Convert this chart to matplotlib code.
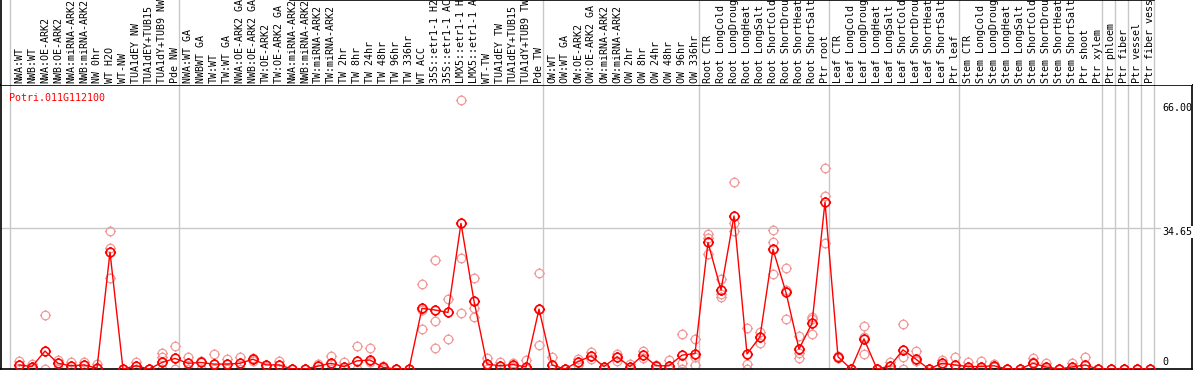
import matplotlib
matplotlib.use("Agg")
import matplotlib.pyplot as plt
import numpy as np
from matplotlib.path import Path

# ---- data ---------------------------------------------------------------
gene = "Potri.011G112100"

labels = [
    "NWA:WT", "NWB:WT", "NWA:OE-ARK2", "NWB:OE-ARK2", "NWA:miRNA-ARK2",
    "NWB:miRNA-ARK2", "NW 0hr", "WT H2O", "WT-NW", "TUA1dEY NW",
    "TUA1dEY+TUB15", "TUA1dY+TUB9 NW", "Pde NW",
    "NWA:WT GA", "NWBWT GA", "TW:WT", "TW:WT GA", "NWA:OE-ARK2 GA",
    "NWB:OE-ARK2 GA", "TW:OE-ARK2", "TW:OE-ARK2 GA", "NWA:miRNA-ARK2",
    "NWB:miRNA-ARK2", "TW:miRNA-ARK2", "TW:miRNA-ARK2", "TW 2hr", "TW 8hr",
    "TW 24hr", "TW 48hr", "TW 96hr", "TW 336hr", "WT ACC", "35S::etr1-1 H2",
    "35S::etr1-1 AC", "LMX5::etr1-1 H", "LMX5::etr1-1 A", "WT-TW",
    "TUA1dEY TW", "TUA1dEY+TUB15", "TUA1dY+TUB9 TW", "Pde TW",
    "OW:WT", "OW:WT GA", "OW:OE-ARK2", "OW:OE-ARK2 GA", "OW:miRNA-ARK2",
    "OW:miRNA-ARK2", "OW 2hr", "OW 8hr", "OW 24hr", "OW 48hr", "OW 96hr",
    "OW 336hr",
    "Root CTR", "Root LongCold", "Root LongDroug", "Root LongHeat",
    "Root LongSalt", "Root ShortCold", "Root ShortDrou", "Root ShortHeat",
    "Root ShortSalt", "Ptr root",
    "Leaf CTR", "Leaf LongCold", "Leaf LongDroug", "Leaf LongHeat",
    "Leaf LongSalt", "Leaf ShortCold", "Leaf ShortDrou", "Leaf ShortHeat",
    "Leaf ShortSalt", "Ptr leaf",
    "Stem CTR", "Stem LongCold", "Stem LongDroug", "Stem LongHeat",
    "Stem LongSalt", "Stem ShortCold", "Stem ShortDrou", "Stem ShortHeat",
    "Stem ShortSalt", "Ptr shoot", "Ptr xylem",
    "Ptr phloem", "Ptr fiber", "Ptr vessel", "Ptr fiber vess",
]

means = [
    1.0, 0.6, 4.4, 1.4, 0.8, 1.0, 0.2, 28.7, 0.0, 0.8,
    0.0, 1.6, 2.6, 1.4, 1.6, 1.2, 1.2, 1.4, 2.4, 1.0,
    1.0, 0.0, 0.0, 0.7, 1.4, 0.6, 2.0, 2.2, 0.4, 0.0,
    0.0, 14.9, 14.5, 13.9, 35.8, 16.7, 1.2, 0.8, 1.1, 0.5,
    14.7, 1.0, 0.0, 1.8, 3.2, 0.6, 3.0, 0.6, 3.4, 0.8,
    0.8, 3.4, 3.8, 31.1, 19.4, 37.6, 3.7, 7.9, 29.4, 18.8,
    4.9, 11.2, 41.0, 3.0, 0.0, 7.4, 0.0, 0.7, 4.7, 2.4,
    0.0, 1.4, 1.0, 0.6, 0.6, 0.8, 0.0, 0.0, 1.4, 0.5,
    0.0, 0.5, 1.0, 0.0, 0.0, 0.0, 0.0, 0.0,
]

replicates = [
    [2.0, 0], [1.2, 0], [13.3, 0], [2.2, 0], [1.6, 0],
    [1.8, 0], [1.2, 0], [33.9, 29.8, 22.4], [0, 0], [1.6, 0],
    [0, 0], [4.0, 3.0, 0], [5.6, 0], [3.0, 0], [2.0, 0],
    [3.7, 0], [2.4, 0], [3.0, 0], [2.6, 2.0], [1.0, 0.6],
    [2.0, 0], [0, 0], [0, 0], [1.2, 0], [3.1, 0],
    [1.6, 0], [5.6, 0], [5.2, 1.6], [0.7, 0], [0, 0],
    [0, 0], [20.8, 9.8, 14.5], [26.8, 11.8, 5.2], [17.2, 7.4], [66.0, 27.3, 13.7],
    [22.3, 14.9, 12.9], [2.6, 0], [1.6, 0], [1.5, 0.6], [2.2, 0],
    [23.5, 5.9, 14.7], [3.0, 0], [0, 0], [2.5, 1.0], [4.2, 2.4],
    [0.6, 0], [3.8, 2.0], [1.2, 0], [4.5, 2.8], [1.0, 0],
    [2.2, 0], [8.7, 1.5, 0], [7.4, 1.0, 3.0], [33.1, 28.2, 32.3], [22.1, 17.6, 18.5],
    [46.0, 34.0, 35.8], [10.0, 1.2, 0], [9.0, 6.3], [34.2, 31.1, 23.3], [24.7, 12.4, 19.3],
    [8.1, 2.7, 4.0], [12.7, 8.5, 12.4], [49.5, 42.5, 30.9], [3.3, 2.6], [0, 0],
    [10.6, 3.7, 7.9], [0, 0], [1.8, 0], [11.0, 3.0, 0], [4.4, 2.0],
    [0, 0], [2.2, 1.0], [2.9, 0], [1.6, 0], [2.0, 0],
    [1.2, 0.4], [0, 0], [0, 0], [2.6, 1.6], [1.5, 0],
    [0, 0], [1.5, 0], [3.0, 0], [0, 0], [0, 0],
    [0, 0], [0, 0], [0, 0],
]

# first column of each sample group (grid lines sit at group starts)
group_starts = [0, 13, 41, 53, 63, 73, 84, 85, 86, 87, 88]
y_ticks = [0, 34.65, 66.00]

# ---- geometry (pixels) --------------------------------------------------
W, H = 1194, 370
LAB_H = 85           # height of the rotated label strip
AX_L, AX_R = 1, 1192
PX_COL = 13.0        # pixels per sample column
X0_PX = 19           # pixel centre of the first column
Y_PER_PX = 34.65 / 141.0

RED = "#ff0000"
PINK = "#f29a9a"
GRID = "#c8c8c8"
FONT = "DejaVu Sans Mono"
FS = 7.2

x_lo = (AX_L - X0_PX) / PX_COL
x_hi = x_lo + (AX_R - AX_L) / PX_COL
y_hi = (H - 1 - LAB_H) * Y_PER_PX


def ring_marker():
    # open circle with four short ticks, like the original pixel glyph
    parts = [Path.unit_circle()]
    for dx, dy in [(0, 1), (0, -1), (1, 0), (-1, 0)]:
        parts.append(Path([(dx, dy), (dx * 1.3, dy * 1.3)],
                          [Path.MOVETO, Path.LINETO]))
    return Path.make_compound_path(*parts)


fig = plt.figure(figsize=(W / 100, H / 100), dpi=100)
ax = fig.add_axes([AX_L / W, 1 / H, (AX_R - AX_L) / W, (H - 1 - LAB_H) / H])
lab = fig.add_axes([AX_L / W, (H - LAB_H) / H, (AX_R - AX_L) / W, LAB_H / H])

x = np.arange(len(means))
mk = ring_marker()

for a in (ax, lab):
    a.set_xlim(x_lo, x_hi)
    a.set_xticks([])
    a.set_yticks([])
    for k in group_starts:
        a.axvline(k - 0.69, color=GRID, lw=1.0, zorder=0)

ax.set_ylim(0, y_hi)
for s in ax.spines.values():
    s.set_color("black")
    s.set_linewidth(1.2)

lab.set_ylim(0, 1)
for side in ("right", "bottom"):
    lab.spines[side].set_visible(False)
lab.spines["left"].set_linewidth(1.2)
lab.spines["top"].set_linewidth(1.2)
lab.spines["top"].set_bounds((290 - X0_PX) / PX_COL, group_starts[-1] - 0.69)

# horizontal reference line at the mid value
ax.axhline(y_ticks[1], color=GRID, lw=1.0, zorder=0)

# replicate points
for i, reps in enumerate(replicates):
    ax.plot([x[i]] * len(reps), reps, linestyle="none", marker=mk, ms=8,
            mfc="none", mec=PINK, mew=0.9, zorder=2)

# mean profile
ax.plot(x, means, color=RED, lw=1.0, marker=mk, ms=8, mfc="none",
        mec=RED, mew=1.2, zorder=3)

# y labels on the right edge
ylab_x = (1162 - AX_L) / (AX_R - AX_L)
ax.text(ylab_x, y_ticks[2] - 1.9, f"{y_ticks[2]:.2f}", transform=ax.get_yaxis_transform(),
        ha="left", va="center", fontsize=FS, family=FONT, color="black")
ax.text(ylab_x, y_ticks[1] - 1.0, f"{y_ticks[1]:.2f}", transform=ax.get_yaxis_transform(),
        ha="left", va="center", fontsize=FS, family=FONT, color="black",
        bbox=dict(fc="white", ec="none", pad=0.5))
ax.text(ylab_x, y_ticks[0] + 1.7, "0", transform=ax.get_yaxis_transform(),
        ha="left", va="center", fontsize=FS, family=FONT, color="black")

# gene id
ax.text(8 / (AX_R - AX_L), 1 - 13 / (H - 1 - LAB_H), gene, transform=ax.transAxes,
        ha="left", va="center", fontsize=FS, family=FONT, color=RED)

# rotated sample labels
for i, name in enumerate(labels):
    lab.text(x[i], 2 / LAB_H, name, rotation=90, rotation_mode="anchor",
             ha="left", va="center", fontsize=FS, family=FONT,
             color="black", clip_on=True)

fig.savefig("out.png", dpi=100)
